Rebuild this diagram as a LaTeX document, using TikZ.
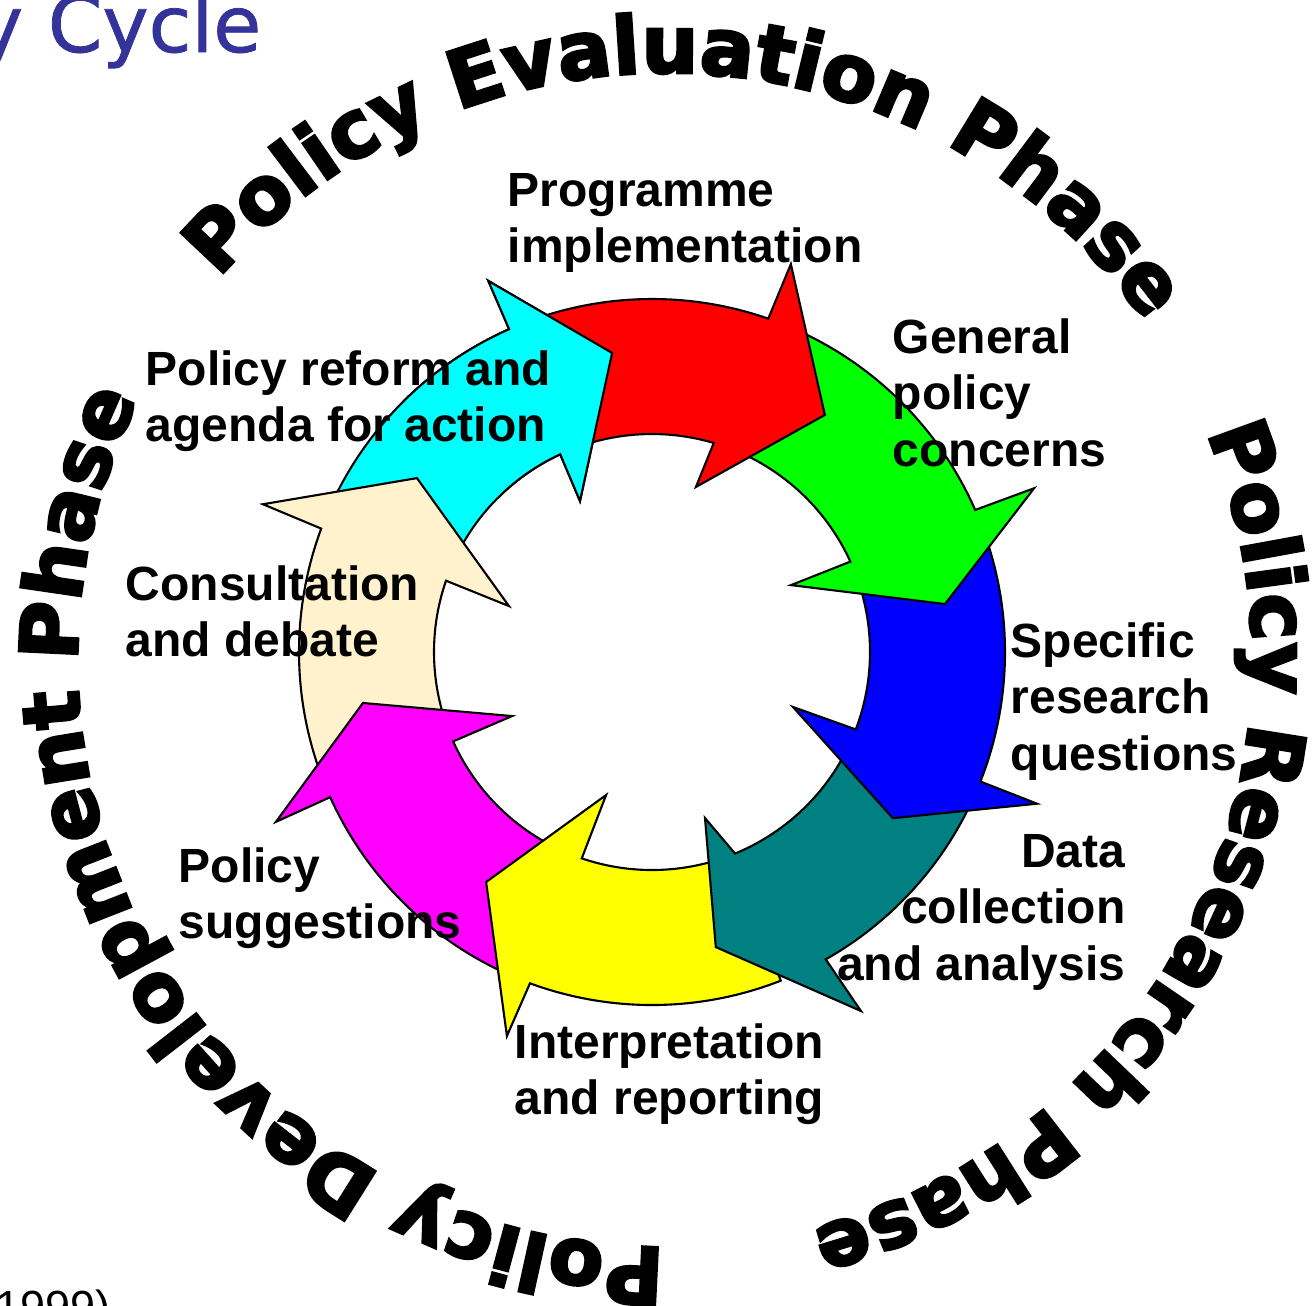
\documentclass[tikz,border=0pt]{standalone}
\usepackage{fontspec}
\setmainfont{Liberation Sans}
\newfontfamily\phasefont{DejaVu Sans}[BoldFeatures={FakeBold=3.5}]
\newfontfamily\titlefont{DejaVu Sans}[FakeBold=1]
\usetikzlibrary{decorations.text}

\definecolor{arrred}{RGB}{255,0,0}
\definecolor{arrgreen}{RGB}{0,255,0}
\definecolor{arrblue}{RGB}{0,0,255}
\definecolor{arrteal}{RGB}{0,128,128}
\definecolor{arryellow}{RGB}{255,255,0}
\definecolor{arrmagenta}{RGB}{255,0,255}
\definecolor{arrbeige}{RGB}{255,242,204}
\definecolor{arrcyan}{RGB}{0,255,255}
\definecolor{titleblue}{RGB}{51,51,153}

% one curved arrow of the ring: colour, tail, outer base, outer barb, tip, inner barb, inner base
\newcommand{\ringarrow}[7]{%
  \path[ringpiece, fill=#1] (#2:353) arc[start angle=#2, end angle=#3, radius=3.53cm]
    -- (#4) -- (#5) -- (#6) -- (#7:218) arc[start angle=#7, end angle=#2, radius=2.18cm] -- cycle;}
\newcommand{\stack}[2]{\begin{tabular}[t]{@{}#1@{}}#2\end{tabular}}

\tikzset{
  ringpiece/.style={draw=black, line width=0.6pt},
  cyclelabel/.style={inner sep=0pt, font=\bfseries\fontsize{13.65}{16.2}\selectfont},
  phasetext/.style={decorate, decoration={text along path, text align=center,
      text={|\phasefont\bfseries\fontsize{22.7}{22.7}\selectfont|#1}}}
}

\begin{document}
\begin{tikzpicture}[x=0.01cm, y=0.01cm]

  \fill[white] (0,0) rectangle (1312,-1305);
  \useasboundingbox (0,0) rectangle (1312,-1305);

  % ring of arrows
  \begin{scope}[shift={(652,-652)}]
    \ringarrow{arrcyan}{-201.44}{-246.1}{-246.2:405.6}{-262.4:301.7}{-244.5:167.3}{-245.1}
    \ringarrow{arrbeige}{-156.8}{-200.44}{-200.8:416.2}{-216.5:292.4}{-197.8:150.2}{-199.1}
    \ringarrow{arrmagenta}{-111.2}{-155.7}{-155.7:412.6}{-170:293.5}{-155.4:153.9}{-155.8}
    \ringarrow{arryellow}{-68.6}{-110.2}{-110.7:410.5}{-125.8:283.6}{-107.8:150.2}{-108.8}
    \ringarrow{arrteal}{-22.5}{-60.5}{-59.8:415.4}{-77.8:301.9}{-72.3:174.3}{-67.6}
    \ringarrow{arrblue}{22.75}{-21.5}{-21.5:413.9}{-34.6:292.6}{-21.3:151.3}{-20.8}
    \ringarrow{arrgreen}{69.8}{23.75}{23.2:415.7}{9.3:296.9}{25.7:154.3}{24.5}
    \ringarrow{arrred}{112.9}{70.8}{70.3:412}{53.9:293.4}{75.1:170.8}{73.55}
    % cyan head lies over the red tail
    \begin{scope}
      \clip (0,0) -- (80:600) -- (135:600) -- cycle;
      \ringarrow{arrcyan}{-201.44}{-246.1}{-246.2:405.6}{-262.4:301.7}{-244.5:167.3}{-245.1}
    \end{scope}
  \end{scope}

  % step labels
  \node[cyclelabel, anchor=base west] (prog) at (507,-206) {\stack{l}{Programme\\implementation}};
  \node[cyclelabel, anchor=base west] (general) at (892,-353) {\stack{l}{General\\policy\\concerns}};
  \node[cyclelabel, anchor=base west] (specific) at (1010,-657) {\stack{l}{Specific\\research\\questions}};
  \node[cyclelabel, anchor=base east] (data) at (1126,-867) {\stack{r}{Data\\collection\\and analysis}};
  \node[cyclelabel, anchor=base west] (interp) at (514,-1058) {\stack{l}{Interpretation\\and reporting}};
  \node[cyclelabel, anchor=base west] (suggest) at (178,-882) {\stack{l}{Policy\\suggestions}};
  \node[cyclelabel, anchor=base west] (consult) at (125,-600) {\stack{l}{Consultation\\and debate}};
  \node[cyclelabel, anchor=base west] (reform) at (145,-385) {\stack{l}{Policy reform and\\agenda for action}};

  % phase names round the ring
  \begin{scope}[shift={(665,-660)}]
    \path[phasetext={Policy Evaluation Phase}] (147.3:587) arc[start angle=147.3, end angle=27.3, radius=5.87cm];
    \path[phasetext={Policy Research Phase}] (33.6:587) arc[start angle=33.6, end angle=-86.4, radius=5.87cm];
    \path[phasetext={Policy Development Phase}] (-85.15:587) arc[start angle=-85.15, end angle=-211.15, radius=5.87cm];
  \end{scope}

  % cut title and source
  \node[font=\titlefont\fontsize{22.2}{22.2}\selectfont, text=titleblue, anchor=base east, inner sep=0pt] (title) at (262,-52) {y Cycle};
  \node[font=\fontsize{12.8}{12.8}\selectfont, anchor=base west, inner sep=0pt] (source) at (-5,-1322) {1999)};

\end{tikzpicture}
\end{document}
